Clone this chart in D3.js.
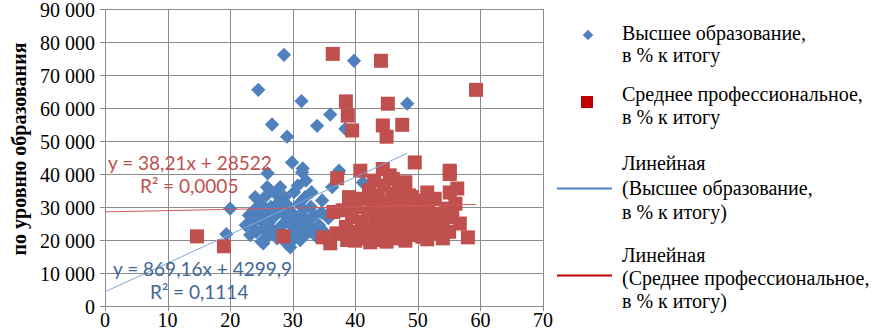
<!DOCTYPE html>
<html lang="ru">
<head>
<meta charset="UTF-8" />
<title>Зарплата по уровню образования</title>
<script src="https://cdn.jsdelivr.net/npm/d3@7"></script>
<style>
  body { margin: 0; background: #fff; }
  svg { display: block; }
</style>
</head>
<body>
<svg id="chart" width="878" height="332"></svg>
<script>
// Высшее образование, в % к итогу  (x — доля, %, y — зарплата)
const higherX = [24.5, 28.6, 26.7, 29.1, 29.9, 31.4, 33.9, 39.8, 36.0, 48.3, 31.6, 37.4, 38.4, 26.0, 31.5,
  25.9, 32.1, 20.0, 19.4, 34.7, 37.3, 36.3, 41.2, 35.7, 34.6, 29.6, 25.3,
  23.0, 23.5, 23.8, 24.2, 24.6, 24.9, 25.2, 25.5, 25.8, 26.0, 26.3, 26.5, 26.8, 27.0, 27.3, 27.5, 27.8,
  28.0, 28.2, 28.5, 28.7, 29.0, 29.2, 29.5, 29.7, 30.0, 30.2, 30.5, 30.7, 31.0, 31.2, 31.5, 31.8, 32.0,
  32.3, 32.6, 32.9, 33.2, 33.5, 33.8, 24.0, 25.0, 26.2, 28.0, 29.0, 30.3, 27.2, 25.7, 31.6, 23.2, 22.5,
  33.0, 34.2, 35.0, 30.8];
const higherY = [65500, 76100, 55000, 51300, 43500, 62100, 54600, 74300, 58000, 61300, 41700, 41000, 53700, 40200, 40500,
  36000, 38000, 29500, 21800, 32000, 40200, 36000, 37400, 26600, 28400, 17800, 19000,
  27500, 25000, 29000, 22500, 26500, 31000, 23500, 28000, 33500, 21000, 25500, 30000, 23000, 27000, 34000, 20500, 31500,
  24000, 28500, 22000, 33000, 26000, 30500, 21500, 24500, 28000, 34500, 22500, 26500, 31000, 20000, 24000, 29000, 33000,
  22000, 26000, 30000, 23500, 27500, 21000, 33000, 19500, 35500, 36000, 19000, 20500, 29500, 26000, 27000, 21500, 24500,
  34500, 24500, 22500, 36500];

// Среднее профессиональное, в % к итогу
const vocX = [14.7, 19.0, 28.5, 36.4, 44.1, 59.3, 38.5, 45.2, 38.8, 39.5, 44.4, 47.5, 45.0, 49.5, 40.8,
  44.4, 55.1, 55.1, 56.3, 37.1, 45.5, 47.9, 51.5, 55.1, 56.7, 58.0, 34.8, 36.0, 38.7, 42.4,
  38.0, 38.5, 39.0, 39.5, 40.0, 40.5, 41.0, 41.2, 41.5, 42.0, 42.2, 42.5, 42.8, 43.0, 43.3, 43.6, 43.8,
  44.0, 44.3, 44.6, 44.8, 45.0, 45.3, 45.6, 45.9, 46.1, 46.4, 46.7, 47.0, 47.2, 47.5, 47.8, 48.0, 48.3,
  48.6, 48.9, 49.2, 49.5, 49.8, 50.1, 50.4, 50.7, 51.0, 51.3, 51.6, 52.0, 52.3, 52.7, 53.0, 53.5, 54.0,
  54.5, 55.0, 55.5, 56.0, 46.0, 43.0, 39.0, 37.0, 40.0, 45.0, 48.0, 51.5, 54.0, 36.5, 47.0,
  41.8, 43.5, 45.2, 46.8, 48.5, 50.2, 44.2, 47.6, 49.0, 42.7];
const vocY = [21100, 18100, 21100, 76400, 74300, 65500, 62000, 61300, 57700, 53200, 54700, 54900, 51300, 43500, 41000,
  41500, 41000, 40000, 35600, 38700, 39600, 36000, 34400, 34400, 25000, 20800, 20800, 19000, 20000, 19300,
  29000, 24000, 21500, 27000, 30000, 22500, 25500, 32500, 20500, 28000, 35000, 23500, 31000, 21000, 26500, 33500, 24000,
  29500, 20000, 36500, 27000, 22500, 31500, 25000, 34000, 20500, 28500, 23000, 32000, 26000, 21000, 29500, 37500, 24500,
  33500, 21500, 27500, 30500, 23000, 25500, 32000, 21000, 28500, 24000, 30000, 22000, 26500, 32500, 23500, 28000, 25000,
  29500, 22500, 27000, 31000, 38500, 38000, 33000, 22000, 19800, 19500, 19800, 20200, 20500, 28500, 35000,
  23000, 25500, 27500, 24500, 22000, 26000, 31000, 28000, 33000, 29500];

// линии тренда (как подписано на диаграмме)
const trendHigher = { a: 869.16, b: 4299.9, x1: 48.3, eq: "y = 869,16x + 4299,9", r2: "R² = 0,1114" };
const trendVoc = { a: 38.21, b: 28522, x1: 59.3, eq: "y = 38,21x + 28522", r2: "R² = 0,0005" };

const xTicks = [0, 10, 20, 30, 40, 50, 60, 70];
const yTicks = [0, 10000, 20000, 30000, 40000, 50000, 60000, 70000, 80000, 90000];

const blue = "#4f81bd", red = "#c0504d";
const serif = "'Liberation Serif', 'Times New Roman', serif";
const sans = "Lato, 'Open Sans', sans-serif";

const svg = d3.select("#chart");
const x = d3.scaleLinear().domain([0, 70]).range([105, 543]);
const y = d3.scaleLinear().domain([0, 90000]).range([306, 9]);
const fmt = d => d3.format(",")(d).replace(/,/g, "\u00a0");

// сетка
svg.append("g").selectAll("line").data(yTicks).join("line")
  .attr("x1", x(0) - 5).attr("x2", x(70))
  .attr("y1", d => Math.round(y(d)) + 0.5).attr("y2", d => Math.round(y(d)) + 0.5)
  .attr("stroke", "#8c8c8c").attr("stroke-width", 1);
svg.append("g").selectAll("line").data(xTicks).join("line")
  .attr("x1", d => Math.round(x(d)) + 0.5).attr("x2", d => Math.round(x(d)) + 0.5)
  .attr("y1", y(90000)).attr("y2", y(0) + 5)
  .attr("stroke", "#8c8c8c").attr("stroke-width", 1);

// подписи осей
svg.append("g").selectAll("text").data(yTicks).join("text")
  .attr("x", 95).attr("y", d => y(d) + 8)
  .attr("text-anchor", "end")
  .style("font-family", serif).style("font-size", "20px").attr("fill", "#000")
  .text(fmt);
svg.append("g").selectAll("text").data(xTicks).join("text")
  .attr("x", d => x(d)).attr("y", 327)
  .attr("text-anchor", "middle")
  .style("font-family", serif).style("font-size", "20px").attr("fill", "#000")
  .text(d => d);

svg.append("text")
  .attr("transform", "translate(26,149) rotate(-90)")
  .attr("text-anchor", "middle")
  .style("font-family", serif)
  .style("font-size", "20px").style("font-weight", "bold")
  .text("по уровню образования");

// точки
const diamond = d3.symbol().type(d3.symbolDiamond2).size(130);
svg.append("g").selectAll("path").data(higherX.map((v, i) => [v, higherY[i]])).join("path")
  .attr("d", diamond)
  .attr("transform", d => `translate(${x(d[0])},${y(d[1])})`)
  .attr("fill", blue);

const sq = 14;
svg.append("g").selectAll("rect").data(vocX.map((v, i) => [v, vocY[i]])).join("rect")
  .attr("x", d => x(d[0]) - sq / 2).attr("y", d => y(d[1]) - sq / 2)
  .attr("width", sq).attr("height", sq)
  .attr("fill", red);

// линии тренда
function trend(t, color) {
  svg.append("line")
    .attr("x1", x(0)).attr("y1", y(t.b))
    .attr("x2", x(t.x1)).attr("y2", y(t.a * t.x1 + t.b))
    .attr("stroke", color).attr("stroke-width", 1);
}
trend(trendHigher, "#7fa6d6");
trend(trendVoc, "#d05a5a");

// уравнения
const eqs = [
  [trendVoc.eq, 108, 170, "#c0504d"], [trendVoc.r2, 140, 193, "#c0504d"],
  [trendHigher.eq, 113, 276, "#3f6797"], [trendHigher.r2, 150, 299, "#3f6797"]
];
svg.append("g").selectAll("text").data(eqs).join("text")
  .attr("x", d => d[1]).attr("y", d => d[2]).attr("fill", d => d[3])
  .style("font-family", sans).style("font-size", "19px")
  .text(d => d[0]);

// легенда
const legend = svg.append("g");
legend.append("path").attr("d", d3.symbol().type(d3.symbolDiamond2).size(70))
  .attr("transform", "translate(588,35)").attr("fill", blue);
legend.append("rect").attr("x", 581).attr("y", 96).attr("width", 12).attr("height", 12).attr("fill", "#c00000");
legend.append("line").attr("x1", 557).attr("x2", 612).attr("y1", 188.5).attr("y2", 188.5).attr("stroke", "#4f81bd").attr("stroke-width", 2);
legend.append("line").attr("x1", 557).attr("x2", 612).attr("y1", 275.5).attr("y2", 275.5).attr("stroke", "#c00000").attr("stroke-width", 2);

const legendLines = [
  ["Высшее образование,", 40], ["в % к итогу", 62],
  ["Среднее профессиональное,", 101], ["в % к итогу", 124],
  ["Линейная", 170], ["(Высшее образование,", 195], ["в % к итогу)", 219],
  ["Линейная", 262], ["(Среднее профессиональное,", 285], ["в % к итогу)", 308]
];
legend.selectAll("text").data(legendLines).join("text")
  .attr("x", 622).attr("y", d => d[1])
  .style("font-family", serif).style("font-size", "20px").attr("fill", "#000")
  .text(d => d[0]);
</script>
</body>
</html>
